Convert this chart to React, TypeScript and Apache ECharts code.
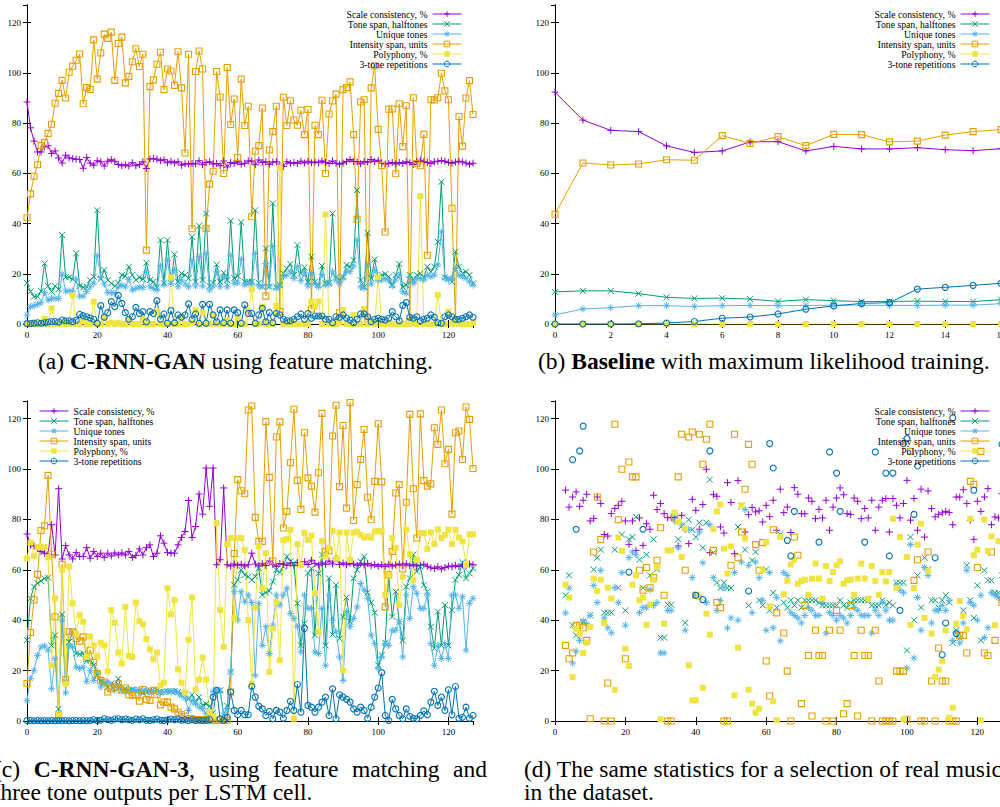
import React, { useEffect, useRef } from "react";
import * as echarts from "echarts";

const FONT = "Liberation Serif";
const NAMES = [
  "Scale consistency, %",
  "Tone span, halftones",
  "Unique tones",
  "Intensity span, units",
  "Polyphony, %",
  "3-tone repetitions",
];
const COLORS = ["#9400d3", "#009e73", "#56b4e9", "#e69f00", "#f0e442", "#0072b2"];

// ---------- panel (a): C-RNN-GAN, epochs 0..127 ----------
const A_SCALE = [
  88.4, 78.1, 72.8, 68.5, 68.5, 70.5, 71.0, 67.9, 68.9, 66.1, 64.1, 67.2, 66.1, 65.8, 65.6, 65.5,
  62.0, 66.3, 64.0, 63.2, 65.0, 64.6, 62.9, 64.8, 65.4, 64.8, 63.5, 63.0, 63.4, 62.9, 64.2, 63.0,
  63.5, 64.6, 61.9, 65.7, 65.9, 65.6, 65.0, 65.4, 64.2, 64.8, 64.1, 64.6, 63.2, 63.8, 63.7, 63.9,
  63.7, 65.0, 63.4, 64.3, 64.6, 63.7, 63.9, 63.0, 64.9, 62.5, 64.3, 63.9, 64.6, 63.6, 64.0, 64.9,
  64.9, 63.4, 65.3, 64.3, 64.6, 63.6, 64.5, 64.6, 63.2, 62.7, 64.6, 64.0, 64.3, 63.9, 64.8, 64.1,
  64.8, 64.2, 64.5, 64.2, 64.9, 64.3, 63.9, 64.9, 64.0, 63.6, 64.1, 64.7, 65.5, 64.7, 64.6, 63.8,
  64.7, 64.4, 65.5, 64.7, 65.2, 64.1, 63.7, 63.9, 64.3, 63.7, 64.3, 63.9, 64.6, 64.2, 63.5, 64.7,
  65.2, 64.6, 64.3, 63.9, 64.6, 64.8, 65.1, 64.8, 64.3, 64.0, 64.5, 64.8, 64.5, 64.1, 63.6, 64.0,
];
const A_TONE = [
  16.4, 12.9, 10.9, 10.9, 13.1, 24.1, 15.1, 12.9, 15.1, 13.8, 35.4, 18.6, 18.6, 17.8, 28.1, 15.1,
  14.6, 14.8, 17.5, 18.8, 45.3, 18.0, 21.5, 17.5, 16.2, 15.1, 16.4, 19.5, 19.1, 22.8, 19.5, 17.5,
  18.6, 17.9, 24.4, 17.5, 16.8, 14.6, 33.4, 16.2, 33.4, 16.4, 27.7, 16.8, 20.1, 19.5, 18.2, 34.7,
  16.8, 39.1, 17.5, 44.0, 15.1, 16.4, 23.7, 16.8, 20.4, 17.5, 41.1, 18.2, 19.1, 40.5, 16.8, 16.8,
  16.8, 45.3, 16.4, 14.8, 30.1, 14.8, 48.0, 14.8, 15.5, 20.1, 22.1, 23.9, 19.5, 31.4, 20.1, 22.5,
  16.8, 26.8, 16.8, 15.5, 23.1, 16.2, 16.4, 44.0, 18.6, 17.5, 18.8, 23.5, 22.8, 25.4, 53.3, 17.5,
  14.8, 36.3, 18.2, 25.7, 18.2, 19.5, 19.9, 18.8, 15.5, 19.5, 23.9, 14.8, 15.5, 19.5, 17.5, 19.5,
  20.1, 18.6, 22.8, 20.8, 22.8, 32.7, 56.6, 18.6, 18.2, 16.8, 28.8, 22.8, 20.1, 20.8, 19.5, 16.2,
];
const A_UNIQUE = [
  3.6, 6.9, 7.3, 7.8, 8.5, 12.5, 9.5, 10.2, 10.2, 10.2, 19.9, 13.1, 13.1, 13.1, 17.8, 11.1,
  11.1, 12.9, 14.8, 16.2, 27.2, 18.6, 15.9, 12.5, 12.5, 12.2, 14.8, 15.5, 14.8, 17.8, 13.5, 14.2,
  14.6, 14.4, 20.8, 14.8, 14.2, 13.5, 23.1, 15.5, 25.2, 16.2, 21.5, 14.8, 17.5, 15.9, 14.8, 25.4,
  15.1, 26.8, 15.1, 28.1, 13.5, 15.1, 20.8, 14.8, 18.8, 14.8, 27.4, 16.2, 16.4, 25.8, 15.5, 16.2,
  15.9, 28.1, 15.1, 15.1, 24.1, 15.1, 31.0, 14.2, 15.1, 18.8, 19.5, 20.8, 18.2, 22.8, 17.2, 20.4,
  15.1, 20.1, 15.9, 14.8, 19.7, 15.5, 15.9, 20.8, 17.5, 15.9, 18.2, 20.8, 20.8, 23.1, 33.4, 14.8,
  14.2, 23.5, 15.9, 21.5, 17.5, 17.5, 18.2, 17.2, 15.1, 17.5, 19.5, 12.9, 12.2, 18.8, 16.2, 18.2,
  18.2, 17.5, 19.5, 18.8, 19.5, 23.5, 36.7, 18.2, 17.5, 18.2, 22.1, 19.5, 18.8, 18.2, 16.8, 15.5,
];
const A_INTENSITY = [
  42.3, 51.8, 58.8, 63.4, 71.0, 72.2, 75.9, 79.5, 87.9, 91.8, 97.0, 90.0, 100.2, 102.6, 105.0, 107.5,
  87.7, 94.1, 93.4, 113.1, 97.5, 107.9, 115.4, 113.7, 116.2, 97.0, 111.7, 114.2, 96.0, 98.6, 104.4, 109.6,
  102.5, 107.4, 29.4, 94.5, 97.2, 103.4, 108.2, 93.3, 101.5, 100.7, 95.0, 108.4, 94.0, 68.1, 107.4, 37.9,
  100.5, 108.7, 101.5, 38.0, 55.7, 60.8, 100.5, 90.4, 59.9, 102.1, 79.4, 89.6, 66.3, 97.5, 79.0, 86.7,
  42.7, 68.8, 71.0, 86.0, 11.1, 69.3, 76.6, 86.7, 5.0, 90.3, 79.0, 88.9, 81.2, 79.1, 85.1, 75.4,
  85.4, 6.0, 79.1, 75.4, 89.1, 59.9, 83.6, 88.8, 91.5, 4.5, 93.3, 94.1, 96.4, 75.4, 41.7, 88.4,
  89.3, 2.0, 94.0, 102.8, 77.5, 63.0, 36.6, 85.5, 85.6, 59.8, 87.7, 70.6, 86.9, 1.0, 90.1, 63.9,
  63.0, 75.5, 27.4, 89.3, 89.2, 90.1, 99.8, 92.8, 89.3, 46.1, 1.0, 82.6, 70.8, 90.0, 96.9, 83.4,
];
const A_POLY = [
  0, 0, 0.5, 0, 0, 2.0, 0, 6.2, 0, 0, 0.5, 0, 0, 11.4, 0, 0,
  1.5, 0, 0, 8.9, 0, 0, 2.5, 0, 0.5, 0, 0.5, 0, 0, 1.5, 0, 0,
  0, 2.0, 0, 0, 0, 4.9, 0, 0, 0, 18.6, 0, 0, 2.5, 0, 0, 0.5,
  5.5, 0, 4.5, 0, 0, 3.5, 0, 0, 0, 1.5, 0, 0, 2.5, 0, 0, 5.0,
  13.8, 0, 0, 6.9, 0, 0.5, 0, 7.2, 62.3, 0, 0, 0.5, 0, 0, 0, 0,
  0, 9.0, 6.9, 9.0, 0, 43.6, 0, 0, 0, 0.5, 5.6, 0, 0, 3.6, 0, 0,
  6.0, 0, 0.5, 0, 18.6, 0, 0, 0.5, 0, 0, 0, 0, 0, 0, 0.5, 0,
  50.9, 0, 0, 0, 0, 11.5, 0, 0, 4.9, 0, 0.5, 0, 0, 0, 0, 0.5,
];
const A_REP = [
  0.2, 0.2, 0.3, 0.5, 0.3, 0.5, 0.8, 1.0, 1.0, 0.8, 1.6, 1.3, 1.3, 0.9, 1.5, 3.8,
  3.3, 2.9, 2.4, 1.9, 0.3, 7.3, 2.7, 4.5, 8.9, 6.9, 11.4, 8.2, 4.5, 1.9, 2.9, 6.6,
  4.2, 4.9, 0.9, 4.9, 4.2, 9.3, 1.9, 4.0, 0.3, 5.3, 0.5, 3.6, 2.7, 3.6, 8.0, 1.9,
  4.0, 0.3, 7.8, 0.3, 7.8, 3.6, 0.9, 5.6, 0.5, 5.6, 0.3, 5.6, 4.5, 0.3, 7.6, 4.2,
  4.2, 0.3, 3.6, 6.2, 0.9, 4.5, 0.5, 4.2, 3.6, 1.9, 1.3, 1.3, 1.9, 2.9, 4.0, 1.9,
  4.2, 2.3, 3.2, 3.2, 3.2, 1.9, 1.9, 0.5, 2.9, 2.7, 3.6, 2.3, 1.6, 0.5, 1.9, 4.0,
  4.0, 2.9, 0.9, 1.9, 2.3, 1.9, 1.6, 2.3, 4.9, 2.9, 1.3, 7.4, 8.5, 2.7, 2.3, 2.9,
  1.3, 1.9, 2.3, 3.6, 2.7, 0.5, 0.3, 2.9, 3.6, 2.9, 1.9, 1.9, 2.3, 2.9, 3.6, 2.7,
];

// ---------- panel (b): Baseline, epochs 0..16 ----------
const B_SCALE = [92.3, 81.2, 77.1, 76.6, 70.9, 68.3, 68.9, 72.5, 72.6, 68.9, 70.7, 69.7, 69.7, 70.2, 69.4, 69.0, 69.8];
const B_TONE = [12.8, 13.2, 13.2, 12.1, 10.6, 10.2, 10.3, 9.9, 9.0, 9.7, 9.3, 8.9, 9.0, 9.1, 9.0, 8.9, 9.7];
const B_UNIQUE = [3.6, 6.0, 6.5, 7.3, 7.3, 7.0, 7.3, 7.4, 7.3, 7.4, 7.5, 7.5, 7.4, 7.4, 7.5, 7.5, 8.1];
const B_INTENSITY = [43.7, 64.1, 63.3, 63.7, 65.4, 65.2, 75.0, 71.9, 74.6, 71.0, 75.5, 75.4, 72.5, 72.8, 75.2, 76.6, 77.4];
const B_POLY = [0, 0, 0, 0, 0, 0, 0, 0, 0, 0, 0, 0, 0, 0, 0, 0, 0];
const B_REP = [0, 0, 0, 0.1, 0.4, 1.0, 2.3, 2.8, 4.0, 5.9, 7.2, 8.2, 8.5, 13.9, 14.6, 15.4, 16.2];

// ---------- panel (c): C-RNN-GAN-3, epochs 0..127 ----------
const C_SCALE = [
  74.2, 69.9, 69.5, 68.6, 67.3, 66.6, 66.2, 77.9, 65.9, 92.2, 64.3, 69.6, 65.9, 64.3, 66.9, 65.3,
  65.3, 68.8, 64.6, 67.3, 65.3, 66.6, 64.9, 66.6, 65.5, 66.7, 65.9, 66.7, 65.9, 67.3, 64.9, 65.7,
  68.3, 65.9, 68.8, 69.9, 65.3, 66.6, 73.5, 70.6, 66.9, 66.6, 66.6, 69.9, 72.8, 75.2, 87.5, 72.8,
  77.2, 90.1, 82.1, 100.4, 85.2, 100.4, 62.0, 64.0, 92.5, 62.0, 61.5, 62.3, 61.8, 62.2, 61.5, 62.0,
  66.6, 62.3, 61.6, 62.4, 61.7, 63.5, 62.1, 61.4, 62.5, 62.2, 61.8, 62.7, 61.6, 62.9, 62.0, 63.2,
  62.1, 63.8, 62.5, 61.9, 62.7, 62.2, 63.5, 62.3, 64.5, 62.1, 62.7, 62.0, 62.6, 62.3, 61.8, 62.4,
  61.9, 62.5, 61.6, 62.1, 61.4, 62.0, 61.3, 62.2, 61.5, 61.9, 62.3, 61.7, 62.4, 61.6, 62.0, 61.5,
  61.8, 62.2, 61.4, 60.8, 60.5, 61.2, 60.3, 60.9, 61.5, 61.2, 61.8, 61.3, 62.0, 61.6, 62.3, 62.0,
];
const C_TONE = [
  32.1, 48.7, 53.3, 54.7, 55.6, 56.6, 56.9, 30.0, 34.0, 4.8, 42.3, 15.5, 31.4, 35.4, 26.8, 26.5,
  26.8, 23.7, 24.1, 22.1, 18.1, 15.7, 15.2, 13.5, 14.8, 13.9, 16.8, 12.2, 12.8, 12.2, 12.5, 12.2,
  12.2, 11.2, 11.5, 12.2, 11.8, 12.2, 11.5, 11.5, 11.8, 11.8, 11.8, 11.5, 10.4, 10.8, 8.8, 10.4,
  7.5, 9.5, 6.2, 6.8, 5.9, 3.2, 12.2, 12.2, 2.2, 6.0, 19.5, 54.0, 56.0, 60.0, 58.0, 57.3,
  56.0, 57.3, 60.6, 50.0, 51.0, 51.6, 55.3, 60.0, 59.0, 61.3, 65.3, 63.3, 62.6, 46.7, 30.0, 38.7,
  58.6, 60.6, 34.0, 58.6, 66.0, 30.0, 56.6, 34.3, 54.0, 32.7, 41.4, 49.0, 39.4, 56.6, 60.0, 63.3,
  65.3, 51.0, 47.0, 43.0, 22.1, 26.1, 31.1, 58.0, 41.4, 51.3, 39.4, 32.0, 53.3, 56.6, 66.0, 59.3,
  61.3, 54.0, 51.3, 37.4, 28.8, 43.4, 30.0, 46.0, 30.0, 44.0, 56.0, 58.0, 63.0, 56.6, 58.6, 60.6,
];
const C_UNIQUE = [
  8.2, 16.8, 20.1, 26.0, 29.4, 29.8, 28.1, 12.8, 24.8, 2.9, 40.0, 11.2, 30.0, 29.4, 21.4, 20.8,
  21.4, 15.7, 20.1, 16.1, 19.5, 13.5, 14.8, 15.5, 14.1, 12.2, 13.5, 12.2, 11.5, 12.0, 11.8, 12.2,
  11.5, 11.8, 12.2, 11.5, 11.8, 12.2, 11.2, 11.5, 11.8, 11.5, 11.8, 11.2, 10.2, 9.1, 4.2, 8.2,
  6.8, 5.5, 4.8, 2.9, 2.2, 11.8, 12.2, 11.8, 2.2, 4.8, 19.5, 51.3, 40.0, 51.3, 47.3, 50.0,
  47.0, 18.1, 46.7, 30.0, 37.4, 26.8, 38.0, 50.0, 46.0, 50.0, 52.7, 42.7, 40.7, 37.4, 27.4, 50.0,
  44.7, 44.7, 27.4, 26.8, 44.7, 22.1, 50.0, 40.0, 35.4, 25.4, 16.1, 43.4, 37.4, 40.7, 45.3, 54.6,
  52.0, 48.7, 34.1, 30.7, 20.8, 25.4, 30.7, 30.0, 36.0, 36.0, 39.4, 25.4, 50.0, 40.7, 53.3, 50.7,
  44.7, 44.7, 50.0, 30.7, 22.1, 30.0, 24.8, 30.7, 24.8, 50.0, 50.0, 44.7, 49.3, 28.1, 46.7, 48.7,
];
const C_INTENSITY = [
  14.9, 35.1, 48.0, 58.2, 75.6, 77.5, 97.5, 66.2, 41.4, 2.1, 62.2, 16.5, 35.4, 35.4, 32.7, 31.7,
  33.4, 24.8, 28.1, 23.2, 18.8, 16.1, 15.5, 11.5, 12.8, 13.5, 14.8, 12.2, 13.1, 10.4, 10.2, 10.4,
  7.9, 12.5, 8.6, 8.2, 12.2, 10.4, 6.4, 7.5, 7.5, 5.5, 4.8, 3.5, 2.5, 1.9, 0.9, 0.9,
  0.6, 0.5, 0.5, 0.5, 0.3, 0.3, 0.3, 0.3, 0.3, 0.3, 11.5, 66.5, 95.8, 91.4, 90.2, 123.4,
  125.0, 80.8, 71.3, 71.3, 118.8, 96.7, 63.5, 112.7, 118.7, 76.6, 83.2, 102.5, 123.7, 95.5, 84.0, 114.4,
  96.5, 93.2, 82.9, 98.5, 122.1, 67.3, 67.5, 113.1, 125.3, 93.0, 117.3, 84.5, 126.4, 79.6, 93.8, 103.8,
  115.7, 88.8, 79.9, 95.1, 118.0, 94.9, 45.3, 58.0, 67.3, 90.5, 93.8, 60.3, 86.8, 121.7, 92.2, 72.6,
  121.9, 95.4, 93.2, 94.1, 116.4, 109.8, 123.4, 102.1, 107.8, 82.1, 114.4, 115.1, 103.8, 124.6, 119.7, 100.2,
];
const C_POLY = [
  64.6, 70.8, 65.5, 69.0, 69.0, 69.0, 65.0, 22.1, 48.7, 2.2, 60.0, 14.8, 61.3, 46.7, 34.7, 42.0,
  39.4, 25.4, 33.6, 30.0, 25.6, 31.1, 30.0, 19.7, 44.0, 39.0, 27.2, 22.8, 45.3, 25.8, 25.4, 47.0,
  39.6, 38.4, 32.5, 28.4, 24.5, 27.2, 14.1, 15.2, 52.7, 42.3, 48.0, 20.5, 15.2, 11.2, 32.3, 49.0,
  12.5, 16.4, 25.2, 16.4, 3.5, 2.0, 78.6, 44.0, 29.4, 70.2, 72.6, 40.7, 72.6, 72.6, 67.9, 40.0,
  14.8, 45.0, 69.3, 52.7, 66.6, 19.5, 36.7, 47.3, 24.1, 71.7, 72.2, 75.9, 0.9, 70.2, 62.0, 74.6,
  71.9, 73.6, 50.7, 35.4, 71.5, 65.3, 68.6, 75.5, 64.6, 74.8, 20.1, 74.8, 63.9, 74.8, 75.2, 73.9,
  72.8, 73.3, 72.8, 75.2, 75.5, 75.2, 50.0, 58.0, 72.6, 68.6, 46.0, 57.3, 75.9, 66.2, 56.0, 64.0,
  74.6, 74.6, 68.3, 74.9, 70.3, 76.1, 72.6, 73.9, 75.9, 70.2, 75.9, 72.8, 71.3, 62.0, 74.1, 74.1,
];
const C_REP = [
  0.2, 0.2, 0.1, 0.2, 0.1, 0.2, 0.1, 0.2, 0.1, 0.2, 0.1, 0.2, 0.1, 0.2, 0.2, 0.1,
  0.2, 0.1, 0.2, 0.5, 0.2, 0.3, 0.9, 0.5, 0.3, 0.8, 0.9, 0.5, 0.8, 0.5, 0.3, 0.8,
  0.5, 0.9, 0.3, 0.2, 0.5, 0.8, 0.3, 0.2, 0.5, 0.8, 0.5, 0.8, 0.3, 0.5, 0.2, 0.5,
  0.2, 0.3, 0.2, 0.3, 0.5, 9.5, 12.2, 0.9, 0.2, 1.5, 11.5, 4.2, 2.5, 4.2, 2.5, 2.5,
  13.7, 9.5, 5.9, 4.8, 2.2, 3.8, 0.9, 4.2, 3.5, 1.1, 4.2, 7.8, 4.2, 14.5, 3.5, 36.7,
  6.2, 5.5, 3.5, 5.5, 7.5, 9.5, 2.2, 12.8, 0.9, 10.4, 9.5, 8.6, 7.5, 4.8, 3.5, 5.5,
  4.2, 1.1, 5.5, 9.5, 13.1, 19.2, 2.2, 0.2, 8.6, 4.8, 2.2, 0.9, 4.8, 1.9, 1.1, 0.9,
  2.2, 4.0, 2.5, 7.5, 11.8, 6.2, 9.5, 4.2, 12.4, 2.5, 13.7, 1.1, 1.5, 5.5, 1.1, 2.2,
];

// ---------- panel (d): real music, [song index, value] ----------
const D_SCALE = [
  [3, 91.6], [4, 84.9], [5, 88.9], [6, 90.9], [7, 85.2], [8, 87.6], [9, 90.0], [10, 79.4], [11, 80.4], [12, 88.9],
  [13, 86.3], [14, 74.0], [15, 73.4], [16, 82.3], [17, 84.3], [18, 85.6], [19, 87.2], [20, 79.4], [21, 70.1], [22, 79.4],
  [23, 67.7], [24, 80.6], [25, 69.7], [26, 78.3], [27, 76.1], [28, 89.6], [29, 83.9], [30, 86.3], [31, 82.3], [32, 80.7],
  [33, 80.7], [34, 80.7], [35, 69.5], [36, 81.6], [37, 76.1], [38, 70.4], [39, 88.0], [40, 83.6], [41, 76.1], [42, 85.9],
  [43, 99.9], [44, 66.8], [45, 89.8], [46, 89.2], [47, 77.0], [48, 74.6], [49, 94.6], [50, 86.7], [51, 66.4], [52, 95.4],
  [54, 75.0], [55, 81.9], [56, 84.7], [57, 83.0], [58, 83.4], [59, 79.0], [60, 85.6], [61, 81.1], [62, 87.6], [63, 75.7],
  [64, 92.0], [65, 82.7], [66, 84.9], [67, 74.8], [68, 92.6], [69, 90.0], [70, 82.3], [71, 82.2], [72, 88.5], [73, 87.2],
  [74, 80.3], [75, 84.0], [76, 80.6], [77, 87.6], [78, 75.7], [79, 84.9], [80, 88.5], [81, 92.5], [82, 89.8], [83, 82.3],
  [84, 82.0], [85, 88.5], [86, 87.2], [87, 80.3], [88, 84.3], [89, 80.6], [90, 87.6], [91, 75.7], [92, 84.9], [93, 87.6],
  [94, 88.3], [95, 75.0], [96, 88.3], [97, 85.6], [98, 80.6], [99, 86.3], [100, 95.5], [101, 79.7], [102, 88.3], [103, 75.7],
  [104, 92.0], [105, 73.0], [106, 91.3], [107, 84.3], [108, 81.0], [109, 82.0], [110, 82.6], [111, 83.2], [112, 82.7], [113, 77.9],
  [114, 88.9], [115, 88.9], [116, 91.8], [117, 86.3], [118, 79.7], [119, 72.1], [120, 87.2], [121, 83.2], [122, 88.9], [123, 92.2],
  [124, 77.9], [125, 81.0], [126, 80.6], [127, 90.2],
];
const D_TONE = [
  [3, 49.9], [4, 57.8], [5, 38.0], [6, 34.0], [8, 39.3], [10, 42.0], [11, 60.1], [12, 64.8], [13, 68.0], [14, 43.0],
  [15, 43.0], [16, 43.0], [17, 68.0], [18, 52.9], [19, 74.0], [20, 43.9], [21, 72.1], [22, 73.0], [23, 81.0], [24, 64.0],
  [25, 52.9], [26, 66.0], [27, 57.8], [28, 72.1], [29, 60.2], [30, 33.1], [31, 33.1], [32, 46.2], [33, 46.2], [34, 80.6],
  [35, 72.1], [36, 77.3], [37, 39.0], [38, 79.9], [39, 75.9], [40, 73.0], [41, 78.7], [42, 68.8], [43, 78.7], [44, 95.8],
  [45, 66.8], [46, 54.9], [47, 52.8], [48, 54.9], [49, 52.8], [50, 52.8], [52, 77.0], [53, 85.2], [54, 68.0], [55, 45.9],
  [56, 63.8], [57, 67.1], [58, 47.9], [59, 45.9], [60, 60.2], [61, 43.9], [62, 50.9], [63, 45.0], [64, 74.1], [65, 47.0],
  [66, 45.0], [67, 47.9], [68, 45.9], [69, 47.9], [70, 45.0], [71, 47.9], [72, 47.9], [73, 47.9], [74, 47.9], [75, 47.0],
  [76, 45.9], [77, 45.9], [78, 45.9], [79, 45.9], [80, 45.9], [81, 47.9], [82, 45.9], [83, 45.0], [84, 47.0], [85, 47.9],
  [86, 47.9], [87, 47.9], [88, 47.9], [89, 47.9], [90, 45.9], [91, 45.9], [92, 45.9], [93, 47.9], [94, 45.9], [95, 47.0],
  [96, 45.9], [97, 54.9], [98, 54.9], [99, 54.9], [100, 28.0], [101, 73.0], [102, 40.0], [103, 57.8], [104, 45.0], [105, 64.8],
  [106, 60.2], [107, 47.9], [108, 47.9], [109, 45.0], [110, 47.9], [111, 49.9], [112, 47.0], [113, 31.0], [114, 36.0], [115, 32.9],
  [116, 43.9], [117, 61.8], [118, 47.9], [119, 40.9], [120, 53.8], [121, 32.0], [122, 59.8], [123, 55.8], [124, 55.8], [125, 50.9],
  [126, 50.9], [127, 57.8],
];
const D_UNIQUE = [
  [3, 42.9], [4, 52.8], [5, 23.0], [6, 27.7], [7, 32.0], [8, 39.7], [9, 38.6], [10, 41.9], [11, 53.8], [12, 47.0],
  [13, 59.8], [14, 40.9], [15, 37.0], [16, 35.0], [17, 52.9], [18, 47.0], [19, 58.9], [20, 38.0], [21, 64.8], [22, 67.1],
  [23, 66.0], [24, 43.0], [25, 45.0], [26, 45.0], [27, 52.1], [28, 45.9], [29, 47.0], [30, 27.0], [31, 27.0], [32, 43.9],
  [33, 43.9], [34, 79.4], [35, 68.8], [36, 77.9], [37, 36.0], [38, 75.9], [39, 56.9], [40, 49.9], [41, 75.0], [42, 62.8],
  [43, 47.0], [44, 77.9], [45, 56.9], [46, 43.9], [47, 47.9], [48, 52.9], [49, 36.9], [50, 40.9], [51, 58.9], [52, 40.0],
  [53, 63.1], [54, 83.9], [55, 61.8], [56, 43.0], [57, 63.1], [58, 56.9], [59, 47.9], [60, 36.0], [61, 58.9], [62, 37.0],
  [63, 49.0], [64, 31.8], [65, 58.9], [66, 57.8], [67, 43.0], [68, 41.9], [69, 40.9], [70, 38.9], [71, 41.9], [72, 45.0],
  [73, 43.9], [74, 41.9], [75, 41.9], [76, 47.0], [77, 34.9], [78, 43.0], [79, 41.9], [80, 40.0], [81, 41.9], [82, 40.9],
  [83, 38.9], [84, 41.9], [85, 45.0], [86, 43.9], [87, 41.9], [88, 41.9], [89, 41.9], [90, 34.9], [91, 43.9], [92, 41.9],
  [93, 47.0], [94, 43.9], [95, 40.0], [96, 40.0], [97, 53.8], [98, 51.9], [99, 50.9], [100, 21.0], [101, 70.0], [102, 25.0],
  [103, 49.0], [104, 36.0], [105, 60.9], [106, 57.8], [107, 38.9], [108, 43.9], [109, 43.9], [110, 45.9], [111, 43.9], [112, 47.9],
  [113, 32.0], [114, 35.0], [115, 31.0], [116, 38.9], [117, 59.8], [118, 47.0], [119, 45.9], [120, 40.0], [121, 49.9], [122, 33.1],
  [123, 37.0], [124, 50.9], [125, 49.9], [126, 49.0], [127, 47.9],
];
const D_INTENSITY = [
  [3, 30.0], [4, 24.7], [5, 27.0], [6, 38.0], [7, 38.0], [8, 37.0], [9, 32.0], [10, 0.9], [11, 67.1], [12, 88.9],
  [13, 72.0], [14, 0], [15, 15.1], [16, 0], [17, 117.8], [18, 79.9], [19, 99.9], [20, 24.7], [21, 102.8], [22, 96.9],
  [23, 96.9], [24, 59.8], [25, 51.9], [26, 60.9], [27, 52.9], [28, 56.9], [29, 63.8], [30, 76.7], [31, 49.9], [32, 0],
  [33, 0], [34, 81.0], [35, 96.9], [36, 113.8], [37, 59.8], [38, 112.7], [39, 114.7], [40, 49.9], [41, 113.8], [42, 101.9],
  [43, 111.8], [44, 117.8], [45, 67.7], [46, 47.0], [47, 45.0], [48, 0], [49, 0], [50, 61.8], [51, 113.8], [52, 64.8],
  [53, 75.0], [54, 92.0], [55, 109.8], [56, 101.9], [57, 70.0], [58, 59.8], [59, 70.8], [60, 23.8], [61, 9.9], [62, 75.9],
  [63, 42.9], [65, 34.9], [66, 19.8], [67, 0], [68, 73.0], [69, 65.8], [70, 6.9], [71, 45.9], [72, 26.0], [73, 2.0],
  [74, 36.0], [75, 26.0], [76, 26.0], [77, 0], [78, 36.0], [79, 0], [80, 43.9], [81, 36.0], [82, 2.9], [83, 6.9],
  [84, 45.9], [85, 26.0], [86, 2.0], [87, 36.0], [88, 26.0], [89, 26.0], [90, 0], [91, 36.0], [92, 15.9], [93, 0],
  [94, 0], [95, 0], [96, 0], [97, 19.8], [98, 19.8], [99, 19.8], [100, 0.7], [101, 107.0], [102, 55.8], [103, 64.0],
  [104, 0], [105, 0], [106, 67.1], [107, 15.9], [108, 0], [109, 29.0], [110, 15.9], [111, 15.9], [112, 0], [113, 0],
  [114, 0], [115, 34.0], [116, 34.0], [117, 27.0], [118, 95.1], [119, 93.9], [120, 60.9], [121, 107.0], [122, 27.0], [123, 26.0],
  [124, 67.1], [125, 32.0], [127, 47.0],
];
const D_POLY = [
  [3, 54.1], [4, 49.0], [5, 17.5], [6, 36.6], [7, 34.7], [8, 27.0], [9, 31.1], [10, 37.3], [11, 56.5], [12, 51.6],
  [13, 56.1], [14, 38.9], [15, 52.9], [16, 48.6], [17, 12.4], [18, 72.8], [19, 67.5], [20, 28.7], [21, 21.8], [22, 54.1],
  [23, 57.8], [24, 47.9], [25, 49.0], [26, 38.2], [27, 46.2], [28, 56.1], [29, 61.1], [30, 0.7], [31, 38.6], [32, 67.7],
  [33, 67.7], [34, 82.7], [35, 79.0], [36, 65.1], [37, 76.3], [38, 22.1], [39, 8.2], [40, 8.2], [41, 49.2], [42, 13.2],
  [43, 42.6], [44, 34.3], [45, 76.1], [46, 83.2], [47, 85.9], [48, 68.4], [49, 58.5], [50, 69.3], [51, 10.2], [52, 29.1],
  [53, 85.6], [54, 72.4], [55, 12.4], [56, 6.9], [57, 3.3], [58, 4.9], [59, 59.8], [60, 71.0], [61, 45.5], [62, 7.8],
  [63, 0.3], [64, 73.0], [65, 50.3], [66, 55.6], [67, 62.1], [68, 64.0], [69, 54.5], [70, 55.6], [71, 56.1], [72, 50.1],
  [73, 56.5], [74, 62.5], [75, 56.5], [76, 48.6], [77, 61.5], [78, 55.6], [79, 59.1], [80, 61.8], [81, 63.4], [82, 54.5],
  [83, 55.8], [84, 56.1], [85, 50.1], [86, 56.5], [87, 62.5], [88, 56.5], [89, 48.6], [90, 61.5], [91, 55.6], [92, 50.1],
  [93, 59.1], [94, 55.4], [95, 59.1], [96, 80.3], [97, 52.9], [98, 73.0], [99, 0.7], [100, 65.1], [101, 38.2], [102, 52.8],
  [103, 70.0], [104, 78.3], [105, 40.9], [106, 59.5], [107, 34.7], [108, 17.5], [109, 20.4], [110, 23.7], [111, 36.0], [112, 1.3],
  [113, 5.3], [114, 38.6], [115, 47.6], [116, 41.7], [117, 36.4], [118, 80.3], [119, 65.8], [120, 68.0], [121, 0.3], [122, 79.9],
  [123, 67.5], [124, 73.3], [125, 38.0], [126, 71.4],
];
const D_REP = [
  [5, 103.7], [6, 76.1], [7, 107.2], [8, 117.0], [21, 59.1], [25, 76.1], [40, 49.9], [42, 48.2], [44, 107.2], [55, 51.6],
  [61, 110.1], [62, 100.4], [66, 71.7], [67, 65.5], [68, 83.2], [75, 71.0], [78, 106.8], [80, 98.4], [81, 83.2], [88, 71.0],
  [91, 106.8], [94, 98.4], [95, 65.5], [96, 98.4], [98, 43.9], [99, 110.1], [100, 112.1], [102, 82.0], [103, 101.2], [108, 64.8],
  [110, 26.3], [111, 38.9], [113, 120.3], [114, 34.7], [119, 91.6], [127, 109.8],
];

// ---------- symbols ----------
const SYMBOLS = [
  { symbol: "path://M0,5L10,5M5,0L5,10", size: 7, kind: "stroke" },
  { symbol: "path://M0,0L10,10M0,10L10,0", size: 6, kind: "stroke" },
  { symbol: "path://M0,5L10,5M5,0L5,10M1.5,1.5L8.5,8.5M1.5,8.5L8.5,1.5", size: 7, kind: "stroke" },
  { symbol: "rect", size: 6, kind: "open" },
  { symbol: "rect", size: 6, kind: "fill" },
  { symbol: "circle", size: 6, kind: "open" },
];

function itemStyleFor(i: number) {
  const c = COLORS[i];
  const k = SYMBOLS[i].kind;
  if (k === "stroke") return { color: c, borderColor: c, borderWidth: 1 };
  if (k === "open") return { color: "rgba(255,255,255,0)", borderColor: c, borderWidth: 1.1 };
  return { color: c, borderWidth: 0 };
}

function makeSeries(panel: string, grid: number, datasets: any[], points: boolean) {
  return datasets.map((d, i) => ({
    type: "line",
    name: panel + "|" + NAMES[i],
    xAxisIndex: grid * 2,
    yAxisIndex: grid * 2,
    data: points ? d : d.map((v: number, k: number) => [k, v]),
    symbol: SYMBOLS[i].symbol,
    symbolSize: SYMBOLS[i].size,
    showSymbol: true,
    showAllSymbol: true,
    lineStyle: { color: COLORS[i], width: points ? 0 : 1 },
    itemStyle: itemStyleFor(i),
    emphasis: { disabled: true },
    silent: true,
    animation: false,
  }));
}

const axisLabelStyle = { fontFamily: FONT, fontSize: 9, color: "#000" };

function makeAxes(grid: number, xmax: number, xint: number) {
  const base = {
    axisLine: { show: true, lineStyle: { color: "#000", width: 1 } },
    axisTick: { show: true, inside: true, length: 4, lineStyle: { color: "#000", width: 1 } },
    splitLine: { show: false },
  };
  const x = [
    {
      ...base, type: "value", gridIndex: grid, position: "bottom", min: 0, max: xmax, interval: xint,
      axisLabel: { ...axisLabelStyle, margin: 6, showMaxLabel: xmax % xint === 0 },
    },
    { ...base, type: "value", gridIndex: grid, position: "top", min: 0, max: xmax, interval: xint, axisLabel: { show: false } },
  ];
  const y = [
    {
      ...base, type: "value", gridIndex: grid, position: "left", min: 0, max: 127, interval: 20,
      axisLabel: { ...axisLabelStyle, margin: 6, showMaxLabel: false },
    },
    { ...base, type: "value", gridIndex: grid, position: "right", min: 0, max: 127, interval: 20, axisLabel: { show: false } },
  ];
  return { x, y };
}

function makeLegend(panel: string, pos: any, align: string) {
  return {
    ...pos,
    orient: "vertical",
    align,
    itemWidth: 29,
    itemHeight: 7,
    itemGap: 0,
    padding: 0,
    selectedMode: false,
    data: NAMES.map((n) => panel + "|" + n),
    formatter: (n: string) => n.split("|")[1],
    textStyle: { fontFamily: FONT, fontSize: 9.7, color: "#000", lineHeight: 9.8 },
    lineStyle: { width: 1, opacity: 1 },
    itemStyle: { borderWidth: 1 },
  };
}

const CAP = 23.5;
function fontCss(bold: boolean) {
  return (bold ? "bold " : "") + CAP + "px '" + FONT + "'";
}
let measureCtx: CanvasRenderingContext2D | null = null;
function measure(text: string, bold = false) {
  if (!measureCtx) measureCtx = document.createElement("canvas").getContext("2d");
  if (!measureCtx) return text.length * CAP * 0.45;
  measureCtx.font = fontCss(bold);
  return measureCtx.measureText(text).width;
}

function capText(x: number, y: number, text: string, rich = false) {
  return {
    type: "text",
    x,
    y,
    silent: true,
    style: {
      text,
      fontFamily: FONT,
      fontSize: CAP,
      lineHeight: 21,
      fill: "#000",
      verticalAlign: "middle",
      textVerticalAlign: "middle",
      rich: rich ? { b: { fontFamily: FONT, fontSize: CAP, lineHeight: 21, fontWeight: "bold", fill: "#000" } } : undefined,
    },
  };
}

// justified caption line: words spread between left and right
function justified(words: { text: string; rich?: boolean; w: number }[], left: number, right: number, y: number) {
  const total = words.reduce((s, w) => s + w.w, 0);
  const gap = (right - left - total) / (words.length - 1);
  let x = left;
  return words.map((w) => {
    const el = capText(x, y, w.text, !!w.rich);
    x += w.w + gap;
    return el;
  });
}

export default function App() {
  const ref = useRef<HTMLDivElement>(null);
  useEffect(() => {
    if (!ref.current) return;
    const chart = echarts.init(ref.current, undefined, { renderer: "svg" });
    const ax0 = makeAxes(0, 127, 20);
    const ax1 = makeAxes(1, 16, 2);
    const ax2 = makeAxes(2, 127, 20);
    const ax3 = makeAxes(3, 127, 20);
    const cLine = justified(
      [
        { text: "(c)", w: measure("(c)") },
        { text: "{b|C-RNN-GAN-3},", rich: true, w: measure("C-RNN-GAN-3", true) + measure(",") },
        { text: "using", w: measure("using") },
        { text: "feature", w: measure("feature") },
        { text: "matching", w: measure("matching") },
        { text: "and", w: measure("and") },
      ],
      -6,
      487,
      769
    );
    const option: any = {
      animation: false,
      backgroundColor: "#fff",
      grid: [
        { left: 27, top: 5, width: 446, height: 319 },
        { left: 555, top: 5, width: 446, height: 319 },
        { left: 27, top: 401, width: 446, height: 320 },
        { left: 555, top: 401, width: 447, height: 320 },
      ],
      xAxis: [...ax0.x, ...ax1.x, ...ax2.x, ...ax3.x],
      yAxis: [...ax0.y, ...ax1.y, ...ax2.y, ...ax3.y],
      legend: [
        makeLegend("a", { right: 548, top: 9 }, "right"),
        makeLegend("b", { right: 20, top: 9 }, "right"),
        makeLegend("c", { left: 39, top: 406 }, "left"),
        makeLegend("d", { right: 20, top: 406 }, "right"),
      ],
      series: [
        ...makeSeries("a", 0, [A_SCALE, A_TONE, A_UNIQUE, A_INTENSITY, A_POLY, A_REP], false),
        ...makeSeries("b", 1, [B_SCALE, B_TONE, B_UNIQUE, B_INTENSITY, B_POLY, B_REP], false),
        ...makeSeries("c", 2, [C_SCALE, C_TONE, C_UNIQUE, C_INTENSITY, C_POLY, C_REP], false),
        ...makeSeries("d", 3, [D_SCALE, D_TONE, D_UNIQUE, D_INTENSITY, D_POLY, D_REP], true),
      ],
      graphic: [
        capText(38, 361, "(a) {b|C-RNN-GAN} using feature matching.", true),
        capText(538, 361, "(b) {b|Baseline} with maximum likelihood training.", true),
        ...cLine,
        capText(-6, 792, "three tone outputs per LSTM cell."),
        capText(524, 769, "(d) The same statistics for a selection of real music"),
        capText(524, 792, "in the dataset."),
      ],
    };
    chart.setOption(option);
    return () => chart.dispose();
  }, []);
  return (
    <div style={{ position: "absolute", left: 0, top: 0, width: 1000, height: 807, overflow: "hidden", background: "#fff" }}>
      <div ref={ref} style={{ width: 1010, height: 807 }} />
    </div>
  );
}
